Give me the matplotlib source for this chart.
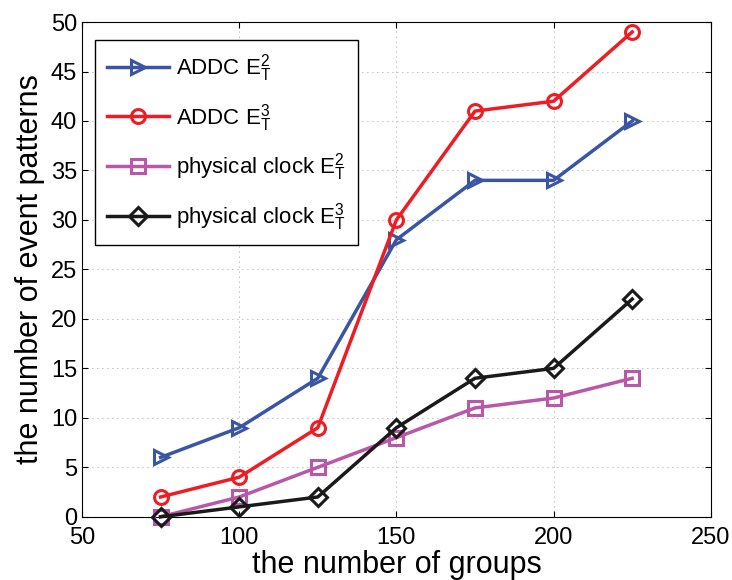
import matplotlib
matplotlib.use("Agg")
import matplotlib.pyplot as plt

plt.rcParams["font.family"] = ["Liberation Sans", "DejaVu Sans"]
plt.rcParams["mathtext.fontset"] = "custom"
plt.rcParams["mathtext.rm"] = "Liberation Sans"
plt.rcParams["mathtext.it"] = "Liberation Sans"

groups = [75, 100, 125, 150, 175, 200, 225]
addc_e2 = [6, 9, 14, 28, 34, 34, 40]
addc_e3 = [2, 4, 9, 30, 41, 42, 49]
phys_e2 = [0, 2, 5, 8, 11, 12, 14]
phys_e3 = [0, 1, 2, 9, 14, 15, 22]

series = [
    (addc_e2, r"ADDC $\mathrm{E_T^2}$", "#3a55a4", ">"),
    (addc_e3, r"ADDC $\mathrm{E_T^3}$", "#ee1d23", "o"),
    (phys_e2, r"physical clock $\mathrm{E_T^2}$", "#b957a8", "s"),
    (phys_e3, r"physical clock $\mathrm{E_T^3}$", "#1a1a1a", "D"),
]

fig = plt.figure(figsize=(7.32, 5.8), dpi=100)
ax = fig.add_axes([0.112, 0.109, 0.859, 0.853])

for vals, label, color, marker in series:
    ms = 9 if marker == "D" else 10
    ax.plot(groups, vals, marker=marker, color=color, lw=2.5, ms=ms,
            mfc="none", mew=2.2, label=label, clip_on=False, zorder=3)

ax.set_xlim(50, 250)
ax.set_ylim(0, 50)
ax.set_xticks(range(50, 251, 50))
ax.set_yticks(range(0, 51, 5))
ax.tick_params(labelsize=17, direction="in", length=4, top=True, right=True)
ax.tick_params(axis="x", pad=7)
ax.grid(True, linestyle=(0, (1, 5)), color="black", lw=0.6, alpha=0.5)
ax.set_xlabel("the number of groups", fontsize=22, labelpad=1)
ax.set_ylabel("the number of event patterns", fontsize=22, labelpad=4)

leg = ax.legend(loc="upper left", fontsize=16, handlelength=2.8,
                handletextpad=0.3, borderpad=0.55, borderaxespad=0,
                labelspacing=0.8, fancybox=False, framealpha=1,
                bbox_to_anchor=(0.02, 0.964))
leg.get_frame().set_edgecolor("black")
leg.get_frame().set_linewidth(1.0)

fig.savefig("out.png", dpi=100)
